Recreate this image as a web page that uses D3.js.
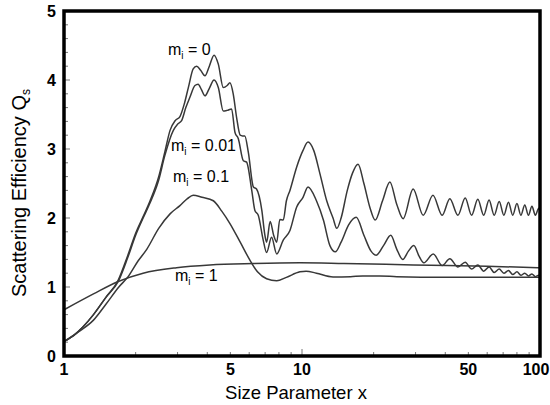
<!DOCTYPE html>
<html>
<head>
<meta charset="utf-8">
<script src="https://cdn.jsdelivr.net/npm/d3@7"></script>
<style>
  html, body { margin: 0; padding: 0; background: #fff; }
  svg { display: block; font-family: "Liberation Sans", Arial, sans-serif; }
</style>
</head>
<body>
<svg id="chart" width="550" height="405"></svg>
<script>
// ---- data ----
const xTickLabels = [1, 5, 10, 50, 100];
const xMinorTicks = [2, 3, 4, 5, 6, 7, 8, 9, 20, 30, 40, 50, 60, 70, 80, 90];
const xMajorTicks = [10];
const yTickLabels = [0, 1, 2, 3, 4, 5];
const yMinorTicks = [0.2,0.4,0.6,0.8,1.2,1.4,1.6,1.8,2.2,2.4,2.6,2.8,3.2,3.4,3.6,3.8,4.2,4.4,4.6,4.8];

const mi0 = [
  [1,0.21],[1.1,0.3],[1.2,0.42],[1.33,0.6],[1.5,0.85],[1.69,1.1],[1.85,1.45],[2.0,1.78],
  [2.15,2.02],[2.3,2.25],[2.5,2.6],[2.65,2.95],[2.79,3.27],[2.93,3.41],[3.07,3.47],[3.2,3.65],
  [3.33,3.89],[3.49,4.16],[3.61,4.2],[3.75,4.14],[3.91,4.06],[4.08,4.2],[4.27,4.36],[4.45,4.23],
  [4.67,3.89],[4.85,3.92],[4.98,3.96],[5.14,3.8],[5.31,3.46],[5.5,3.2],[5.62,3.19],[5.75,3.19],
  [5.95,2.95],[6.25,2.45],[6.44,2.42],[6.78,2.11],[6.97,1.77],[7.1,1.65],[7.35,1.95],[7.6,1.75],
  [7.83,1.65],[8.07,1.98],[8.34,1.97],[8.6,2.25],[8.9,2.4],[9.5,2.74],[10.1,2.98],[10.6,3.1],
  [11.2,2.98],[11.9,2.64],[12.7,2.25],[13.5,2.0],[14.0,1.85],[14.6,2.0],[15.5,2.4],[16.3,2.65],
  [17.2,2.78],[18.2,2.5],[19.3,2.15],[20.3,1.97],[21.8,2.25],[23.4,2.52],[25,2.2],[26.6,1.99],
  [29.3,2.42],[32.3,2.04],[35.5,2.33],[38.8,2.04],[41.8,2.28],[45.2,2.04],[48.5,2.29],[51.6,2.04],
  [54.8,2.27],[58,2.04],[61.1,2.26],[64.2,2.04],[67.4,2.24],[70.5,2.04],[73.7,2.23],[76.8,2.04],
  [80,2.21],[83.1,2.04],[86.3,2.19],[89.4,2.04],[92.5,2.17],[95.6,2.04],[98.8,2.14],[100,2.1]
];

const mi001 = [
  [1,0.21],[1.1,0.3],[1.2,0.42],[1.33,0.6],[1.5,0.85],[1.69,1.08],[1.85,1.42],[2.0,1.75],
  [2.15,2.0],[2.3,2.22],[2.5,2.55],[2.65,2.9],[2.88,3.27],[3.0,3.36],[3.12,3.41],[3.25,3.6],
  [3.38,3.75],[3.55,3.92],[3.66,3.94],[3.78,3.86],[3.91,3.77],[4.08,3.88],[4.27,4.0],[4.45,3.89],
  [4.67,3.55],[4.85,3.56],[5.06,3.58],[5.23,3.24],[5.4,3.15],[5.67,2.83],[5.85,2.81],[6.15,2.4],
  [6.34,2.11],[6.55,2.04],[6.87,1.68],[7.1,1.5],[7.45,1.72],[7.83,1.48],[8.34,1.68],[8.9,1.82],
  [9.5,2.16],[10.1,2.3],[10.6,2.45],[11.5,2.25],[12.3,1.97],[13.1,1.6],[13.8,1.51],[14.6,1.65],
  [15.7,1.9],[16.9,2.01],[18.2,1.75],[19.5,1.52],[20.5,1.46],[22,1.6],[23.6,1.75],[25,1.55],
  [26.5,1.4],[28,1.52],[29.5,1.6],[31,1.45],[32.5,1.35],[35.6,1.48],[38.8,1.31],[41.8,1.41],
  [45.2,1.29],[48.5,1.36],[51.6,1.26],[54.8,1.32],[58,1.23],[61.1,1.29],[64.2,1.21],[67.4,1.26],
  [70.5,1.2],[73.7,1.24],[76.8,1.18],[80,1.22],[83.1,1.17],[86.3,1.2],[89.4,1.16],[92.5,1.19],
  [95.6,1.15],[98.8,1.17],[100,1.16]
];

const mi01 = [
  [1,0.21],[1.15,0.35],[1.33,0.52],[1.5,0.75],[1.7,1.0],[1.86,1.15],[2.05,1.38],[2.23,1.55],
  [2.5,1.85],[2.79,2.06],[3.07,2.18],[3.3,2.28],[3.49,2.33],[3.8,2.3],[4.24,2.25],[4.6,2.1],
  [4.98,1.92],[5.5,1.65],[6.04,1.39],[6.5,1.22],[7.1,1.12],[7.83,1.09],[8.6,1.14],[9.8,1.22],
  [10.4,1.23],[11.5,1.2],[13.5,1.146],[16,1.15],[18,1.16],[21.2,1.16],[25,1.15],[40,1.14],
  [70,1.14],[100,1.14]
];

const mi1 = [
  [1,0.67],[1.33,0.9],[1.69,1.08],[2.15,1.2],[2.97,1.28],[4.1,1.32],[6.25,1.34],[9.8,1.35],
  [15,1.34],[29.3,1.32],[60,1.3],[100,1.28]
];

const curveLabels = ["0", "0.01", "0.1", "1"];
const labelAnchors = [[168,55],[171,151],[173,182],[175,281]]; // px positions of labels

// ---- layout ----
const L = 64, R = 540, T = 11, B = 356;
const svg = d3.select("#chart");

const x = d3.scaleLog().domain([1, 100]).range([L, R]);
const y = d3.scaleLinear().domain([0, 5]).range([B, T]);

const line = d3.line()
  .x(d => x(d[0]))
  .y(d => y(d[1]))
  .curve(d3.curveMonotoneX);

const g = svg.append("g");
[mi0, mi001, mi01, mi1].forEach(s => {
  g.append("path")
    .attr("d", line(s))
    .attr("fill", "none")
    .attr("stroke", "#383838")
    .attr("stroke-width", 1.5);
});

// minor / major ticks (inside)
const tickG = svg.append("g").attr("stroke", "#777").attr("stroke-width", 1);
yMinorTicks.forEach(v => tickG.append("line").attr("x1", L).attr("x2", L + 4).attr("y1", y(v)).attr("y2", y(v)));
yTickLabels.forEach(v => tickG.append("line").attr("x1", L).attr("x2", L + 6).attr("y1", y(v)).attr("y2", y(v)));
xMinorTicks.forEach(v => tickG.append("line").attr("y1", B).attr("y2", B - 4).attr("x1", x(v)).attr("x2", x(v)));
xMajorTicks.forEach(v => tickG.append("line").attr("y1", B).attr("y2", B - 7).attr("x1", x(v)).attr("x2", x(v)));

// frame
svg.append("rect")
  .attr("x", L).attr("y", T).attr("width", R - L).attr("height", B - T)
  .attr("fill", "none").attr("stroke", "#000").attr("stroke-width", 3.5);

// tick labels
svg.append("g").selectAll("text").data(yTickLabels).join("text")
  .attr("x", L - 8).attr("y", d => y(d)).attr("dy", "0.36em")
  .attr("text-anchor", "end").attr("font-weight", "bold").attr("font-size", 16)
  .text(d => d);
svg.append("g").selectAll("text").data(xTickLabels).join("text")
  .attr("x", d => d === 100 ? x(d) - 4 : x(d)).attr("y", 375)
  .attr("text-anchor", "middle").attr("font-weight", "bold").attr("font-size", 16)
  .text(d => d);

// axis titles
svg.append("text")
  .attr("x", 296).attr("y", 399)
  .attr("text-anchor", "middle").attr("font-size", 18.5)
  .text("Size Parameter x");

const yt = svg.append("text")
  .attr("transform", "translate(26,193) rotate(-90)")
  .attr("text-anchor", "middle").attr("font-size", 20);
yt.append("tspan").text("Scattering Efficiency Q");
yt.append("tspan").attr("font-size", 12).attr("dy", 4).text("s");

// curve labels
curveLabels.forEach((lab, i) => {
  const t = svg.append("text").attr("x", labelAnchors[i][0]).attr("y", labelAnchors[i][1]).attr("font-size", 16);
  t.append("tspan").text("m");
  t.append("tspan").attr("font-size", 10).attr("dy", 4).text("i");
  t.append("tspan").attr("dy", -4).text(" = " + lab);
});
</script>
</body>
</html>
